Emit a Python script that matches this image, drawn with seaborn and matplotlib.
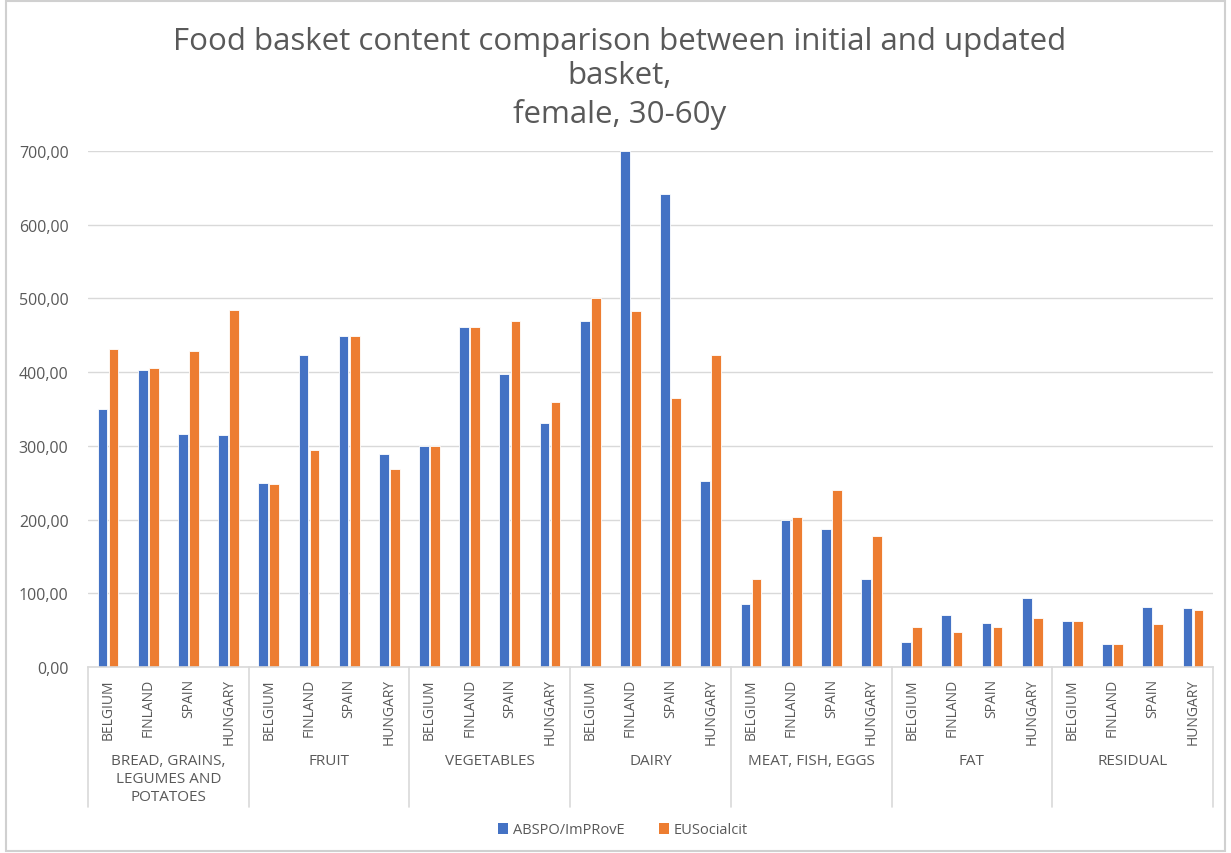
import matplotlib
matplotlib.use('Agg')
import matplotlib.pyplot as plt
import matplotlib.transforms as mtransforms
from matplotlib.patches import Patch, Rectangle
import pandas as pd
import seaborn as sns

sns.set_style('white')
plt.rcParams['font.family'] = ['Open Sans', 'DejaVu Sans']

groups = ['BREAD, GRAINS,\nLEGUMES AND\nPOTATOES', 'FRUIT', 'VEGETABLES', 'DAIRY',
          'MEAT, FISH, EGGS', 'FAT', 'RESIDUAL']
countries = ['BELGIUM', 'FINLAND', 'SPAIN', 'HUNGARY']
series = ['ABSPO/ImPRovE', 'EUSocialcit']

# values per group, in country order
abspo = [[350, 403, 316, 315],
         [249, 423, 449, 289],
         [300, 461, 398, 331],
         [470, 700, 642, 253],
         [86, 199, 187, 119],
         [34, 70, 60, 94],
         [62, 31, 81, 80]]
eusocial = [[431, 405, 429, 484],
            [248, 295, 449, 269],
            [300, 461, 470, 360],
            [501, 483, 365, 423],
            [119, 203, 240, 178],
            [54, 48, 54, 66],
            [63, 31, 58, 77]]

# long-form table
rows = []
for gi, g in enumerate(groups):
    for ci, c in enumerate(countries):
        slot = f'{gi}_{c}'
        rows.append({'slot': slot, 'series': series[0], 'value': abspo[gi][ci]})
        rows.append({'slot': slot, 'series': series[1], 'value': eusocial[gi][ci]})
df = pd.DataFrame(rows)
order = [f'{gi}_{c}' for gi in range(len(groups)) for c in countries]

colors = ['#4472C4', '#ED7D31']
grey = '#595959'

fig = plt.figure(figsize=(12.31, 8.54), dpi=100)
ax = fig.add_axes([88/1231, 1 - 668/854, (1213 - 88)/1231, (668 - 152)/854])

sns.barplot(data=df, x='slot', y='value', hue='series', order=order,
            hue_order=series, palette=colors, width=0.55, gap=0.12,
            edgecolor='white', linewidth=0.6, saturation=1, ax=ax, legend=False)

ax.set_ylim(0, 700)
ax.set_xlim(-0.5, len(order) - 0.5)
ax.set_yticks(range(0, 701, 100))
ax.set_yticklabels([f'{v},00' for v in range(0, 701, 100)], color=grey, fontsize=11.5)
ax.yaxis.grid(True, color='#d9d9d9', linewidth=1)
ax.set_axisbelow(True)
for s in ['top', 'right', 'left']:
    ax.spines[s].set_visible(False)
ax.spines['bottom'].set_color('#d9d9d9')
ax.spines['bottom'].set_linewidth(1.2)
ax.tick_params(axis='y', length=0, pad=14)
ax.tick_params(axis='x', length=0, pad=8)
ax.set_xticks(range(len(order)))
ax.set_xticklabels(countries * len(groups), rotation=90, color=grey, fontsize=10, va='top')
ax.set_xlabel('')
ax.set_ylabel('')

# second level of the category axis
trans = mtransforms.blended_transform_factory(ax.transData, ax.transAxes)
sep_bottom = -(808 - 668) / 516
for gi in range(len(groups) + 1):
    xpos = gi * 4 - 0.5
    ax.plot([xpos, xpos], [0, sep_bottom], color='#d9d9d9', lw=1.2,
            transform=trans, clip_on=False)
for gi, g in enumerate(groups):
    ax.text(gi * 4 + 1.5, -(754 - 668) / 516, g, transform=trans, ha='center',
            va='top', color=grey, fontsize=11, linespacing=1.28)

# title
for txt, ypix in [('Food basket content comparison between initial and updated', 42),
                  ('basket,', 76), ('female, 30-60y', 114)]:
    fig.text(0.503, 1 - ypix/854, txt, ha='center', va='center', color=grey, fontsize=22.5)

handles = [Patch(facecolor=c, edgecolor='none') for c in colors]
fig.legend(handles, series, loc='center', bbox_to_anchor=(0.506, 1 - 831/854), ncol=2,
           frameon=False, fontsize=10.5, handlelength=0.7, handleheight=0.7,
           columnspacing=2.4, handletextpad=0.3, labelcolor=grey)

fig.patches.append(Rectangle((6/1231, 2/854), 1 - 12/1231, 1 - 4/854,
                             transform=fig.transFigure, fill=False,
                             edgecolor='#d0d0d0', linewidth=1.5))

fig.savefig('out.png', dpi=100)
